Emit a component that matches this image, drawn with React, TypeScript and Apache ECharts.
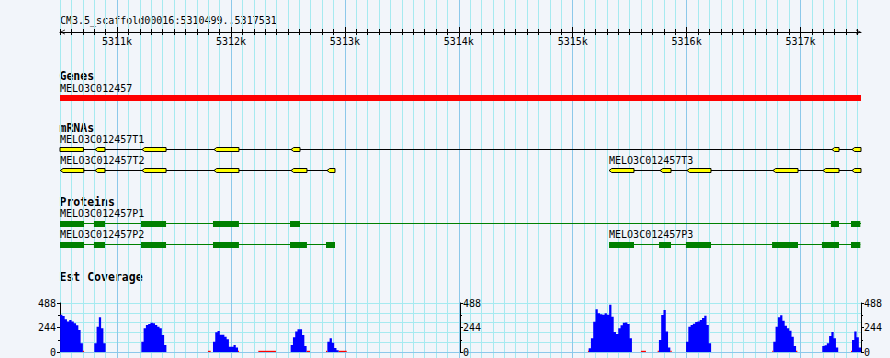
import React, { useEffect, useRef } from 'react';
import * as echarts from 'echarts';

// ---------- data ----------
const VIEW_START = 5310499;
const VIEW_END = 5317531;
const TITLE = 'CM3.5_scaffold00016:5310499..5317531';
const MAJOR_TICKS = [5311000, 5312000, 5313000, 5314000, 5315000, 5316000, 5317000];
const MINOR_TICKS: number[] = [];
for (let v = 5310500; v <= 5317500; v += 100) MINOR_TICKS.push(v);

const SECTION_TITLES = ['Genes', 'mRNAs', 'Proteins', 'Est Coverage'];

const GENE_NAME = 'MELO3C012457';
const GENE_SPAN = [5310499, 5317531];

const T1_EXONS = [[5310499, 5310705], [5310806, 5310894], [5311219, 5311430], [5311851, 5312070], [5312527, 5312606], [5317276, 5317338], [5317452, 5317531]];
const T2_EXONS = [[5310502, 5310708], [5310806, 5310894], [5311219, 5311430], [5311851, 5312070], [5312527, 5312667], [5312843, 5312913]];
const T3_EXONS = [[5315319, 5315538], [5315767, 5315863], [5316003, 5316214], [5316758, 5316978], [5317197, 5317338], [5317452, 5317531]];

const P1_CDS = [[5310499, 5310710], [5310797, 5310894], [5311210, 5311430], [5311842, 5312070], [5312518, 5312606], [5317267, 5317338], [5317443, 5317525]];
const P2_CDS = [[5310499, 5310710], [5310797, 5310894], [5311210, 5311430], [5311842, 5312070], [5312518, 5312667], [5312834, 5312913]];
const P3_CDS = [[5315319, 5315538], [5315758, 5315863], [5315994, 5316214], [5316750, 5316978], [5317188, 5317338], [5317443, 5317525]];

const TRANSCRIPTS = [
  { name: 'MELO3C012457T1', start: 5310499, end: 5317531, row: 0, clipStart: true, parts: T1_EXONS },
  { name: 'MELO3C012457T2', start: 5310502, end: 5312913, row: 1, clipStart: false, parts: T2_EXONS },
  { name: 'MELO3C012457T3', start: 5315319, end: 5317531, row: 1, clipStart: false, parts: T3_EXONS },
];
const PROTEINS = [
  { name: 'MELO3C012457P1', start: 5310499, end: 5317531, row: 0, parts: P1_CDS },
  { name: 'MELO3C012457P2', start: 5310499, end: 5312913, row: 1, parts: P2_CDS },
  { name: 'MELO3C012457P3', start: 5315319, end: 5317525, row: 1, parts: P3_CDS },
];

const COV_MAX = 488;
const COV_TICKS = 244;
const COV_BIN = 20;
const COVERAGE_STARTS = [5310500, 5310800, 5311213, 5311842, 5312524, 5312846, 5315140, 5315757, 5315995, 5316761, 5317191, 5317452];
const COVERAGE_VALUES = [
  [372, 359, 325, 305, 319, 305, 286, 266, 219, 86],
  [86, 252, 345, 236, 86],
  [103, 236, 269, 279, 292, 286, 269, 252, 236, 169, 70],
  [103, 196, 209, 173, 173, 153, 126, 53, 53, 70, 46],
  [70, 146, 203, 226, 226, 169, 60],
  [103, 136, 93, 40, 17],
  [37, 136, 302, 425, 385, 375, 372, 385, 370, 470, 350, 200, 179, 236, 266, 292, 295, 279, 136],
  [120, 369, 418, 203, 46],
  [103, 252, 269, 282, 299, 305, 319, 339, 362, 269, 86],
  [103, 252, 345, 365, 312, 262, 236, 212, 153, 60],
  [60, 66, 86, 159, 199, 136, 46],
  [120, 203, 146, 46],
];
const LOW_COVERAGE = [
  [5310700, 5310710], [5311798, 5311822], [5312062, 5312070], [5312240, 5312395], [5312664, 5312694],
  [5312834, 5312846], [5312946, 5313016], [5315134, 5315140], [5315599, 5315643], [5315746, 5315757],
  [5315857, 5315869], [5316752, 5316761], [5316961, 5316972], [5317443, 5317452],
];
const LOW_VALUE = 12;

// ---------- style ----------
const BG = '#f2f5fa';
const MINOR_COLOR = '#a6eaf0';
const MAJOR_COLOR = '#8cc8ea';
const MONO = '"DejaVu Sans Mono", monospace';
const LABEL_FONT = `10px ${MONO}`;
const HEAD_FONT = `bold 11.5px ${MONO}`;

const L = 60, R = 29;

function labelEl(x: number, y: number, text: string) {
  return { type: 'text', style: { text, x, y, font: LABEL_FONT, fill: '#000', align: 'left', verticalAlign: 'middle' } };
}

function hiddenX(gridIndex: number) {
  return { type: 'value', gridIndex, min: VIEW_START, max: VIEW_END, show: false };
}

export default function App() {
  const ref = useRef<HTMLDivElement>(null);
  useEffect(() => {
    document.body.style.margin = '0';
    document.body.style.background = BG;
    const chart = echarts.init(ref.current!, null, { renderer: 'svg' });

    const headY = [76, 127.7, 202, 276.7];
    const graphics: any[] = [
      { type: 'text', x: 60, y: 20.5, style: { text: TITLE, font: LABEL_FONT, fill: '#000', verticalAlign: 'middle' } },
      ...SECTION_TITLES.map((t, i) => ({ type: 'text', x: 59.5, y: headY[i], style: { text: t, font: HEAD_FONT, fill: '#000', verticalAlign: 'middle' } })),
    ];

    const chevron = 'path://M0,10 L5,0 L10,10 L8.4,10 L5,3.2 L1.6,10 Z';

    const rulerAxis = (ticks: number[], len: number, inside: boolean, line: boolean, labels: boolean) => ({
      type: 'value', gridIndex: 2, position: 'top', min: VIEW_START, max: VIEW_END,
      axisLine: line
        ? { show: true, onZero: false, symbol: [chevron, chevron], symbolSize: [7, 5], symbolOffset: [2.5, -2.5], lineStyle: { color: '#000', width: 1 } }
        : { show: false, onZero: false },
      axisTick: { show: true, customValues: ticks, length: len, inside, lineStyle: { color: '#000', width: 1 } },
      axisLabel: labels
        ? { show: true, inside: true, customValues: MAJOR_TICKS, margin: 4, formatter: (v: number) => `${v / 1000}k`, fontFamily: 'DejaVu Sans Mono', fontSize: 10, color: '#000' }
        : { show: false },
      splitLine: { show: false },
    });

    const option: any = {
      animation: false,
      backgroundColor: BG,
      graphic: graphics,
      grid: [
        { left: L, right: R, top: 0, height: 358 },
        { left: L, right: R, top: 0, height: 358 },
        { left: L, right: R, top: 32, height: 10 },
        { left: L, right: R, top: 92, height: 12 },
        { left: L, right: R, top: 139, height: 41 },
        { left: L, right: R, top: 213.5, height: 42 },
        { left: L, right: R, top: 303, height: 49 },
      ],
      xAxis: [
        {
          type: 'value', gridIndex: 0, min: VIEW_START, max: VIEW_END,
          axisLine: { show: false, onZero: false }, axisLabel: { show: false },
          axisTick: { show: false, customValues: MINOR_TICKS },
          splitLine: { show: true, lineStyle: { color: MINOR_COLOR, width: 1 } },
        },
        {
          type: 'value', gridIndex: 1, min: VIEW_START, max: VIEW_END,
          axisLine: { show: false, onZero: false }, axisLabel: { show: false },
          axisTick: { show: false, customValues: MAJOR_TICKS },
          splitLine: { show: true, lineStyle: { color: MAJOR_COLOR, width: 1 } },
        },
        rulerAxis(MINOR_TICKS, 3, false, true, false),
        rulerAxis(MINOR_TICKS, 3, true, false, false),
        rulerAxis(MAJOR_TICKS, 5, false, false, false),
        rulerAxis(MAJOR_TICKS, 5, true, false, true),
        hiddenX(3),
        hiddenX(4),
        hiddenX(5),
        {
          type: 'value', gridIndex: 6, min: VIEW_START, max: VIEW_END, position: 'bottom',
          axisLine: { show: true, onZero: false, lineStyle: { color: MAJOR_COLOR, width: 1 } },
          axisTick: { show: false }, axisLabel: { show: false }, splitLine: { show: false },
        },
      ],
      yAxis: [
        { type: 'value', gridIndex: 0, min: 0, max: 1, show: false },
        { type: 'value', gridIndex: 1, min: 0, max: 1, show: false },
        { type: 'value', gridIndex: 2, min: 0, max: 1, show: false },
        { type: 'category', gridIndex: 3, data: ['gene'], inverse: true, show: false },
        { type: 'category', gridIndex: 4, data: ['row1', 'row2'], inverse: true, show: false },
        { type: 'category', gridIndex: 5, data: ['row1', 'row2'], inverse: true, show: false },
        {
          type: 'value', gridIndex: 6, position: 'left', min: 0, max: COV_MAX, interval: COV_TICKS,
          axisLine: { show: true, lineStyle: { color: '#000' } },
          axisTick: { show: true, length: 3, lineStyle: { color: '#000' } },
          minorTick: { show: true, splitNumber: 2, length: 2, lineStyle: { color: '#000' } },
          axisLabel: { margin: 4, fontFamily: 'DejaVu Sans Mono', fontSize: 10, color: '#000' },
          splitLine: { show: false },
        },
        {
          type: 'value', gridIndex: 6, position: 'left', offset: -400, min: 0, max: COV_MAX, interval: COV_TICKS,
          axisLine: { show: true, lineStyle: { color: '#000' } },
          axisTick: { show: true, inside: true, length: 3, lineStyle: { color: '#000' } },
          minorTick: { show: true, splitNumber: 2, length: 2, lineStyle: { color: '#000' } },
          axisLabel: { inside: true, margin: 3, fontFamily: 'DejaVu Sans Mono', fontSize: 10, color: '#000' },
          splitLine: { show: false },
        },
        {
          type: 'value', gridIndex: 6, position: 'right', min: 0, max: COV_MAX, interval: COV_TICKS,
          axisLine: { show: true, lineStyle: { color: '#000' } },
          axisTick: { show: true, length: 3, lineStyle: { color: '#000' } },
          minorTick: { show: true, splitNumber: 2, length: 2, lineStyle: { color: '#000' } },
          axisLabel: { margin: 3, fontFamily: 'DejaVu Sans Mono', fontSize: 10, color: '#000' },
          splitLine: { show: false },
        },
        {
          type: 'value', gridIndex: 6, position: 'left', min: 0, max: COV_MAX, interval: COV_MAX / 5,
          axisLine: { show: false }, axisTick: { show: false }, axisLabel: { show: false },
          splitLine: { show: true, lineStyle: { color: MINOR_COLOR, width: 1 } },
        },
      ],
      series: [
        {
          type: 'custom', name: 'Genes', xAxisIndex: 6, yAxisIndex: 3,
          data: [[GENE_SPAN[0], GENE_SPAN[1], 0]],
          encode: { x: [0, 1], y: 2 },
          renderItem: (_p: any, api: any) => {
            const a = api.coord([api.value(0), 0]);
            const b = api.coord([api.value(1), 0]);
            const yc = Math.round(a[1]);
            return {
              type: 'group', children: [
                { type: 'rect', shape: { x: a[0], y: yc - 3, width: b[0] - a[0], height: 6 }, style: { fill: '#ff0000' } },
                labelEl(a[0], yc - 10, GENE_NAME),
              ],
            };
          },
        },
        {
          type: 'custom', name: 'mRNAs', xAxisIndex: 7, yAxisIndex: 4,
          data: TRANSCRIPTS.map((t, i) => [t.start, t.end, t.row, i]),
          encode: { x: [0, 1], y: 2 },
          renderItem: (_p: any, api: any) => {
            const t = TRANSCRIPTS[api.value(3)];
            const row = api.value(2);
            const a = api.coord([t.start, row]);
            const b = api.coord([t.end, row]);
            const yc = Math.round(a[1]);
            const mid = yc + 0.5, top = yc - 1.5, bot = yc + 2.5;
            const children: any[] = [
              { type: 'line', shape: { x1: a[0], y1: mid, x2: b[0], y2: mid }, style: { stroke: '#000', lineWidth: 1 } },
            ];
            t.parts.forEach(([s, e], i) => {
              const x0 = api.coord([s, row])[0];
              const x1 = api.coord([e, row])[0];
              const pointed = !(t.clipStart && i === 0);
              const tip = Math.min(2.7, (x1 - x0) / 2);
              const pts = pointed
                ? [[x0, mid], [x0 + tip, top], [x1, top], [x1, bot], [x0 + tip, bot]]
                : [[x0, top], [x1, top], [x1, bot], [x0, bot]];
              children.push({ type: 'polygon', shape: { points: pts }, style: { fill: '#ffff00', stroke: '#000', lineWidth: 1 } });
            });
            children.push(labelEl(a[0], yc - 10, t.name));
            return { type: 'group', children };
          },
        },
        {
          type: 'custom', name: 'Proteins', xAxisIndex: 8, yAxisIndex: 5,
          data: PROTEINS.map((t, i) => [t.start, t.end, t.row, i]),
          encode: { x: [0, 1], y: 2 },
          renderItem: (_p: any, api: any) => {
            const t = PROTEINS[api.value(3)];
            const row = api.value(2);
            const a = api.coord([t.start, row]);
            const b = api.coord([t.end, row]);
            const yc = Math.round(a[1]);
            const children: any[] = [
              { type: 'line', shape: { x1: a[0], y1: yc - 0.5, x2: b[0], y2: yc - 0.5 }, style: { stroke: '#008000', lineWidth: 1 } },
            ];
            t.parts.forEach(([s, e]) => {
              const x0 = api.coord([s, row])[0];
              const x1 = api.coord([e, row])[0];
              children.push({ type: 'rect', shape: { x: x0, y: yc - 3, width: x1 - x0, height: 6 }, style: { fill: '#008000' } });
            });
            children.push(labelEl(a[0], yc - 10.5, t.name));
            return { type: 'group', children };
          },
        },
        {
          type: 'custom', name: 'Est Coverage', xAxisIndex: 9, yAxisIndex: 6,
          data: COVERAGE_STARTS.map((s, i) => [s, s + COVERAGE_VALUES[i].length * COV_BIN, i]),
          encode: { x: [0, 1] },
          renderItem: (_p: any, api: any) => {
            const idx = api.value(2);
            const start = COVERAGE_STARTS[idx];
            const vals = COVERAGE_VALUES[idx];
            const pts: number[][] = [api.coord([start, 0])];
            vals.forEach((v, i) => {
              pts.push(api.coord([start + i * COV_BIN, v]));
              pts.push(api.coord([start + (i + 1) * COV_BIN, v]));
            });
            pts.push(api.coord([start + vals.length * COV_BIN, 0]));
            return { type: 'polygon', shape: { points: pts }, style: { fill: '#0000ff' } };
          },
        },
        {
          type: 'custom', name: 'Low coverage', xAxisIndex: 9, yAxisIndex: 6,
          data: LOW_COVERAGE.map(([s, e]) => [s, e, LOW_VALUE]),
          encode: { x: [0, 1], y: 2 },
          renderItem: (_p: any, api: any) => {
            const a = api.coord([api.value(0), api.value(2)]);
            const b = api.coord([api.value(1), 0]);
            return { type: 'rect', shape: { x: a[0], y: a[1], width: Math.max(1, b[0] - a[0]), height: b[1] - a[1] }, style: { fill: '#ff0000' } };
          },
        },
      ],
    };
    chart.setOption(option);
    return () => chart.dispose();
  }, []);
  return <div ref={ref} style={{ width: 890, height: 358 }} />;
}
